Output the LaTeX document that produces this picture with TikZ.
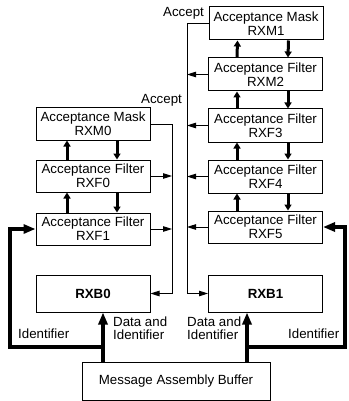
\documentclass[tikz,border=0pt]{standalone}
\usepackage{fontspec}
\setmainfont{Liberation Sans}
\usetikzlibrary{arrows.meta}
\begin{document}
\begin{tikzpicture}[x=1pt,y=-1pt,
  box/.style={draw, line width=1pt, minimum width=114pt, minimum height=32pt, inner sep=0pt, align=center, font=\fontsize{13.3}{14}\selectfont},
  lbl/.style={inner sep=0pt, align=left, font=\fontsize{13.3}{13}\selectfont},
  thinarr/.style={line width=1pt, -{Triangle[length=9pt,width=5.5pt]}},
  vthick/.style={line width=3pt, -{Triangle[length=6pt,width=7pt]}},
  feed/.style={line width=3.3pt, -{Triangle[length=12pt,width=9pt]}}]
\useasboundingbox (0,0) rectangle (348,401);
% left column
\node[box] (RXM0) at (93,124) {Acceptance Mask\\RXM0};
\node[box] (RXF0) at (93,176) {Acceptance Filter\\RXF0};
\node[box] (RXF1) at (93,229) {Acceptance Filter\\RXF1};
\node[box, minimum height=37pt, font=\fontsize{13.3}{14}\selectfont\bfseries] (RXB0) at (93,293.5) {RXB0};
% right column
\node[box, minimum height=33pt] (RXM1) at (266,23.5) {Acceptance Mask\\RXM1};
\node[box, minimum height=33pt] (RXM2) at (265.5,74.5) {Acceptance Filter\\RXM2};
\node[box, minimum height=33pt] (RXF3) at (265.5,125.5) {Acceptance Filter\\RXF3};
\node[box, minimum height=33pt] (RXF4) at (265.5,176.5) {Acceptance Filter\\RXF4};
\node[box] (RXF5) at (265.5,227) {Acceptance Filter\\RXF5};
\node[box, minimum height=37pt, font=\fontsize{13.3}{14}\selectfont\bfseries] (RXB1) at (265.5,293.5) {RXB1};
% buffer
\node[box, minimum width=188pt, minimum height=38pt] (MAB) at (176,381) {Message Assembly Buffer};

% accept lines
\coordinate (bL) at (172,293.5);
\coordinate (bR) at (187,293.5);
\draw[thinarr] (RXM0.east) -| (bL) -- (RXB0.east);
\draw[thinarr] (RXF0.east) -- (RXF0.east -| bL);
\draw[thinarr] (RXF1.east) -- (RXF1.east -| bL);
\draw[thinarr] (RXM1.west) -| (bR) -- (RXB1.west);
\draw[thinarr] (RXM2.west) -- (RXM2.west -| bR);
\draw[thinarr] (RXF3.west) -- (RXF3.west -| bR);
\draw[thinarr] (RXF4.west) -- (RXF4.west -| bR);
\draw[thinarr] (RXF5.west) -- (RXF5.west -| bR);
\node[lbl, anchor=base west] (acc1) at (163,16.5) {Accept};
\node[lbl, anchor=base west] (acc0) at (141,103) {Accept};

% vertical double arrows, left column
\foreach \a/\b in {RXM0/RXF0, RXF0/RXF1}{
  \draw[vthick] ([xshift=-26pt]\b.north) -- ([xshift=-26pt]\a.south);
  \draw[vthick] ([xshift=24pt]\a.south) -- ([xshift=24pt]\b.north);
}
\foreach \a/\b in {RXM1/RXM2, RXM2/RXF3, RXF3/RXF4, RXF4/RXF5}{
  \draw[vthick] ([xshift=-28.5pt]\b.north) -- ([xshift=-28.5pt]\a.south);
  \draw[vthick] ([xshift=22.5pt]\a.south) -- ([xshift=22.5pt]\b.north);
}

% identifier feeds
\coordinate (jL) at (103,347);
\coordinate (cL) at (10,347);
\coordinate (jR) at (247,347);
\coordinate (cR) at (345,347);
\draw[feed] (MAB.north -| jL) -- (RXB0.south -| jL);
\draw[feed] (jL) -- (cL) |- (RXF1.west);
\draw[feed] (MAB.north -| jR) -- (RXB1.south -| jR);
\draw[feed] (jR) -- (cR) |- (RXF5.east);

\node[lbl, anchor=base west] (idL) at (18,338) {Identifier};
\node[lbl, anchor=base west] (idR) at (288,338) {Identifier};
\node[lbl, anchor=north west] (daL) at (113,317) {Data and\\Identifier};
\node[lbl, anchor=north west] (daR) at (187,317) {Data and\\Identifier};
\end{tikzpicture}
\end{document}
